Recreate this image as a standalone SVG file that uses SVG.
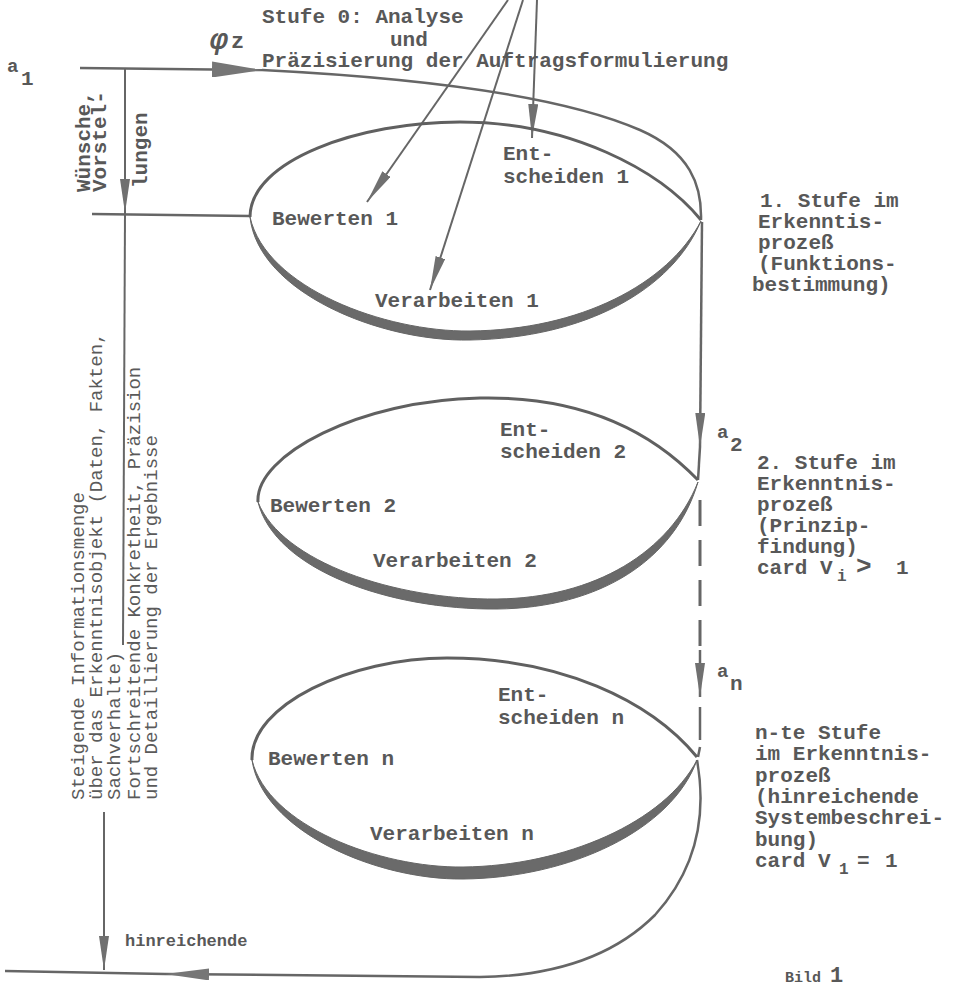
<svg xmlns="http://www.w3.org/2000/svg" width="956" height="991" viewBox="0 0 956 991">
<style>
.t{font-family:"Liberation Mono","DejaVu Sans Mono",monospace;font-size:21px;font-weight:bold;fill:#585858;}
.v{font-family:"Liberation Mono","DejaVu Sans Mono",monospace;font-size:19px;fill:#5a5a5a;}
.s16{font-size:16px;}
.sa{font-size:19px;}
.ln{fill:none;stroke:#666;stroke-width:2.5;}
.thin{fill:none;stroke:#666;stroke-width:2;}
.top{fill:none;stroke:#606060;stroke-width:3;}
.cr{fill:#6a6a6a;stroke:#666;stroke-width:1;}
.dash{fill:none;stroke:#666;stroke-width:3;stroke-dasharray:26 14;}
</style>
<defs>
<marker id="m" viewBox="0 0 34 10" refX="34" refY="5" markerWidth="34" markerHeight="10" markerUnits="userSpaceOnUse" orient="auto"><path d="M0,0 L34,5 L0,10 Z" fill="#707070"/></marker>
<marker id="mb" viewBox="0 0 50 16" refX="50" refY="8" markerWidth="50" markerHeight="16" markerUnits="userSpaceOnUse" orient="auto"><path d="M0,0 L50,8 L0,16 Z" fill="#767676"/></marker>
<marker id="ml" viewBox="0 0 44 12" refX="44" refY="6" markerWidth="44" markerHeight="12" markerUnits="userSpaceOnUse" orient="auto"><path d="M0,0 L44,6 L0,12 Z" fill="#767676"/></marker>
</defs>
<rect width="956" height="991" fill="#ffffff"/>

<g id="connectors">
  <path class="ln" d="M80 68 L262 70" marker-end="url(#mb)"/>
  <path class="ln" d="M262 70 C420 78 560 95 640 130 C690 152 702 185 701 220"/>
  <path class="thin" d="M125 68 L125 213" marker-end="url(#m)"/>
  <path class="thin" d="M125 213 L123 645"/>
  <path class="ln" d="M92 214 L250 216"/>
  <path class="thin" d="M508 0 L367 202" marker-end="url(#m)"/>
  <path class="thin" d="M523 0 L430 290" marker-end="url(#m)"/>
  <path class="thin" d="M537 0 L532 138" marker-end="url(#m)"/>
  <path class="ln" d="M702 222 L700 447" marker-end="url(#m)"/>
  <path class="ln" d="M700 447 L698 480"/>
  <path class="dash" d="M700 500 L700 650"/>
  <path class="ln" d="M700 650 L700 697" marker-end="url(#m)"/>
  <path class="ln" d="M700 707 L700 740"/>
  <path class="ln" d="M700 747 L698 757"/>
  <path class="ln" d="M697 760 C706 810 700 865 655 915 C615 955 555 976 480 977 L165 974" marker-end="url(#ml)"/>
  <path class="ln" d="M165 974 L5 971"/>
  <path class="thin" d="M104 812 L104 970" marker-end="url(#m)"/>
</g>

<g id="stufe0">
  <text class="t" x="262" y="23">Stufe 0: Analyse</text>
  <text class="t" x="390" y="46">und</text>
  <text class="t" x="262" y="67">Präzisierung der Auftragsformulierung</text>
  <text class="t" x="210" y="49" style="font-size:30px;font-style:italic">φ</text>
  <text class="t" x="231" y="48" style="font-size:22px">z</text>
  <text class="t sa" x="7" y="72">a</text>
  <text class="t" x="21" y="85">1</text>
</g>

<g id="wuensche">
  <text class="t" transform="translate(90,192) rotate(-90)">Wünsche,</text>
  <text class="t" transform="translate(106,192) rotate(-90)">Vorstel-</text>
  <text class="t" transform="translate(147,188) rotate(-90)">lungen</text>
</g>

<g id="info">
  <text class="v" transform="translate(84,800) rotate(-90)">Steigende Informationsmenge</text>
  <text class="v" transform="translate(102,800) rotate(-90)">über das Erkenntnisobjekt (Daten, Fakten,</text>
  <text class="v" transform="translate(120,800) rotate(-90)">Sachverhalte)</text>
  <text class="v" transform="translate(140,800) rotate(-90)">Fortschreitende Konkretheit, Präzision</text>
  <text class="v" transform="translate(157,800) rotate(-90)">und Detaillierung der Ergebnisse</text>
</g>

<g id="loop1">
  <path class="top" d="M250 217 C250 160 360 122 460 122 C570 122 660 170 701 220"/>
  <path class="cr" d="M250 217 C258 292 380 342 470 340 C585 338 672 290 701 221 C668 284 580 330 470 331 C385 332 266 288 250 217 Z"/>
  <text class="t" x="503" y="160">Ent-</text>
  <text class="t" x="503" y="183">scheiden 1</text>
  <text class="t" x="272" y="225">Bewerten 1</text>
  <text class="t" x="375" y="307">Verarbeiten 1</text>
</g>

<g id="stufe1">
  <text class="t" x="760" y="207">1. Stufe im</text>
  <text class="t" x="758" y="228">Erkenntis-</text>
  <text class="t" x="758" y="249">prozeß</text>
  <text class="t" x="758" y="270">(Funktions-</text>
  <text class="t" x="752" y="291">bestimmung)</text>
</g>

<g id="a2">
  <text class="t sa" x="717" y="438">a</text>
  <text class="t" x="730" y="451">2</text>
</g>

<g id="loop2">
  <path class="top" d="M258 502 C255 455 360 400 480 398 C580 396 650 430 698 480"/>
  <path class="cr" d="M258 502 C275 570 390 610 497 609 C600 608 675 560 698 482 C670 552 595 598 497 599 C395 600 282 562 258 502 Z"/>
  <text class="t" x="500" y="436">Ent-</text>
  <text class="t" x="500" y="458">scheiden 2</text>
  <text class="t" x="270" y="512">Bewerten 2</text>
  <text class="t" x="373" y="567">Verarbeiten 2</text>
</g>

<g id="stufe2">
  <text class="t" x="757" y="469">2. Stufe im</text>
  <text class="t" x="757" y="490">Erkenntnis-</text>
  <text class="t" x="757" y="511">prozeß</text>
  <text class="t" x="757" y="532">(Prinzip-</text>
  <text class="t" x="757" y="553">findung)</text>
  <text class="t" x="757" y="574">card V<tspan class="s16" x="837" dy="7">i</tspan><tspan x="856" dy="-7" style="font-size:26px">&gt;</tspan><tspan x="896">1</tspan></text>
</g>

<g id="an">
  <text class="t sa" x="717" y="677">a</text>
  <text class="t" x="730" y="690">n</text>
</g>

<g id="loopn">
  <path class="top" d="M252 760 C250 705 350 658 447 658 C560 658 650 700 697 757"/>
  <path class="cr" d="M252 760 C262 830 375 880 463 879 C570 878 672 830 697 760 C665 822 565 866 463 867 C380 868 268 826 252 760 Z"/>
  <text class="t" x="498" y="701">Ent-</text>
  <text class="t" x="498" y="724">scheiden n</text>
  <text class="t" x="268" y="765">Bewerten n</text>
  <text class="t" x="370" y="840">Verarbeiten n</text>
</g>

<g id="stufen">
  <text class="t" x="755" y="739">n-te Stufe</text>
  <text class="t" x="755" y="760">im Erkenntnis-</text>
  <text class="t" x="755" y="782">prozeß</text>
  <text class="t" x="755" y="803">(hinreichende</text>
  <text class="t" x="755" y="824">Systembeschrei-</text>
  <text class="t" x="755" y="846">bung)</text>
  <text class="t" x="755" y="867">card V<tspan class="s16" x="839" dy="7">1</tspan><tspan x="857" dy="-7">=</tspan><tspan x="885">1</tspan></text>
</g>

<g id="ende">
  <text class="t" x="125" y="946" style="font-size:17px">hinreichende</text>
  <text class="t" x="785" y="982" style="font-size:15px">Bild <tspan style="font-size:22px">1</tspan></text>
</g>
</svg>
